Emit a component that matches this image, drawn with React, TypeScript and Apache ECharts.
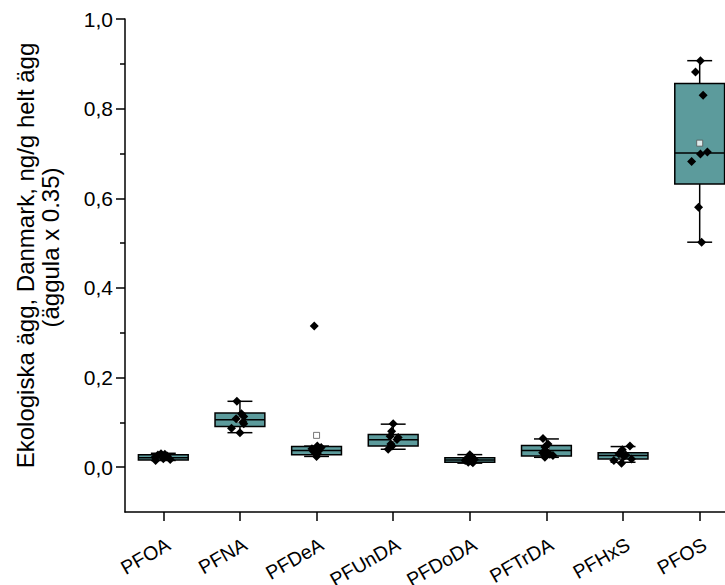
import React, { useEffect, useRef } from "react";
import * as echarts from "echarts";

const categories = ["PFOA", "PFNA", "PFDeA", "PFUnDA", "PFDoDA", "PFTrDA", "PFHxS", "PFOS"];

// [min, Q1, median, Q3, max]
const boxStats = [
  [0.015, 0.016, 0.021, 0.028, 0.031],
  [0.077, 0.091, 0.106, 0.121, 0.147],
  [0.024, 0.028, 0.037, 0.046, 0.047],
  [0.040, 0.047, 0.061, 0.073, 0.096],
  [0.009, 0.011, 0.016, 0.021, 0.028],
  [0.022, 0.025, 0.037, 0.0485, 0.063],
  [0.011, 0.018, 0.026, 0.032, 0.046],
  [0.502, 0.632, 0.701, 0.856, 0.907],
];

const means = [0.023, 0.106, 0.071, 0.064, 0.017, 0.040, 0.026, 0.723];

const pointValues = [
  [0.030, 0.029, 0.027, 0.025, 0.022, 0.019, 0.017, 0.015],
  [0.147, 0.119, 0.113, 0.108, 0.101, 0.097, 0.087, 0.077],
  [0.315, 0.047, 0.044, 0.041, 0.038, 0.035, 0.030, 0.024],
  [0.097, 0.080, 0.069, 0.066, 0.062, 0.052, 0.047, 0.040],
  [0.028, 0.022, 0.019, 0.017, 0.015, 0.013, 0.011, 0.010],
  [0.064, 0.052, 0.045, 0.037, 0.032, 0.029, 0.026, 0.022],
  [0.047, 0.039, 0.030, 0.027, 0.024, 0.018, 0.015, 0.009],
  [0.907, 0.882, 0.830, 0.703, 0.699, 0.682, 0.580, 0.502],
];

// horizontal jitter of each point, in category widths
const pointJitter = [
  [-0.03, 0.02, -0.07, 0.05, -0.11, 0.0, 0.09, -0.10],
  [-0.04, 0.02, 0.05, -0.05, 0.04, 0.05, -0.11, 0.0],
  [-0.03, 0.01, 0.06, -0.06, 0.035, -0.04, 0.01, 0.0],
  [0.0, -0.02, -0.04, 0.065, 0.05, -0.03, -0.015, -0.065],
  [0.0, 0.03, -0.04, 0.06, -0.06, 0.02, -0.02, 0.04],
  [-0.045, 0.02, -0.02, -0.01, -0.05, 0.045, 0.085, -0.02],
  [0.09, -0.01, -0.055, 0.035, 0.01, 0.11, -0.12, -0.02],
  [0.01, -0.055, 0.045, 0.10, 0.01, -0.105, -0.015, 0.025],
];

const yMajorTicks = [0, 0.2, 0.4, 0.6, 0.8, 1.0];
const yMinorTicks = [0.1, 0.3, 0.5, 0.7, 0.9];

const FONT = "'Liberation Sans', Arial, Helvetica, sans-serif";
const BOX_FILL = "#5c9b9c";

export default function App() {
  const ref = useRef<HTMLDivElement | null>(null);

  useEffect(() => {
    if (!ref.current) return;
    const chart = echarts.init(ref.current, undefined, { renderer: "svg" });

    const boxData = boxStats.map((s, i) => [i, ...s]);
    const meanData = means.map((m, i) => [i, m]);
    const pointData: number[][] = [];
    pointValues.forEach((vals, i) => {
      vals.forEach((v, j) => pointData.push([i + pointJitter[i][j], v]));
    });

    const option: any = {
      animation: false,
      backgroundColor: "#ffffff",
      textStyle: { fontFamily: FONT, color: "#000" },
      grid: {
        left: 125,
        right: -13,
        top: 19,
        bottom: 73,
        containLabel: false,
        outerBoundsMode: "none",
      },
      xAxis: [
        {
          type: "category",
          data: categories,
          boundaryGap: true,
          axisLine: { show: true, onZero: false, lineStyle: { color: "#000", width: 1.5 } },
          axisTick: {
            show: true,
            alignWithLabel: true,
            length: 9,
            lineStyle: { color: "#000", width: 1.5 },
          },
          axisLabel: {
            interval: 0,
            rotate: 30,
            margin: 22,
            align: "right",
            verticalAlign: "top",
            fontSize: 19.5,
            color: "#000",
            fontFamily: FONT,
          },
          splitLine: { show: false },
        },
        {
          type: "value",
          min: -0.5,
          max: 7.5,
          show: false,
          axisLine: { onZero: false },
          splitLine: { show: false },
        },
      ],
      yAxis: [
        {
          type: "value",
          min: -0.1,
          max: 1.0,
          position: "left",
          axisLine: { show: true, onZero: false, lineStyle: { color: "#000", width: 1.5 } },
          axisTick: {
            show: true,
            length: 9,
            customValues: yMajorTicks,
            lineStyle: { color: "#000", width: 1.5 },
          },
          axisLabel: {
            customValues: yMajorTicks,
            formatter: (v: number) => v.toFixed(1).replace(".", ","),
            fontSize: 21,
            margin: 12,
            color: "#000",
            fontFamily: FONT,
          },
          splitLine: { show: false },
          name: "{a|Ekologiska ägg, Danmark, ng/g helt ägg}\n{b|(äggula x 0.35)}",
          nameLocation: "middle",
          nameRotate: 90,
          nameGap: 62,
          nameTextStyle: {
            fontFamily: FONT,
            color: "#000",
            rich: {
              a: {
                fontSize: 24,
                lineHeight: 25,
                fontFamily: FONT,
                color: "#000",
                padding: [0, 0, 0, 20],
              },
              b: {
                fontSize: 24,
                lineHeight: 25,
                fontFamily: FONT,
                color: "#000",
                padding: [0, 0, 0, 36],
              },
            },
          },
        },
        {
          type: "value",
          min: -0.1,
          max: 1.0,
          position: "left",
          axisLine: { show: false, onZero: false },
          axisTick: {
            show: true,
            length: 5,
            customValues: yMinorTicks,
            lineStyle: { color: "#000", width: 1.5 },
          },
          axisLabel: { show: false },
          splitLine: { show: false },
        },
      ],
      series: [
        {
          type: "custom",
          xAxisIndex: 0,
          yAxisIndex: 0,
          z: 2,
          data: boxData,
          encode: { x: 0, y: [1, 2, 3, 4, 5] },
          renderItem: (params: any, api: any) => {
            const idx = api.value(0);
            const vMin = api.value(1);
            const vQ1 = api.value(2);
            const vMed = api.value(3);
            const vQ3 = api.value(4);
            const vMax = api.value(5);
            const x = api.coord([idx, vMed])[0];
            const yMin = api.coord([idx, vMin])[1];
            const yQ1 = api.coord([idx, vQ1])[1];
            const yMed = api.coord([idx, vMed])[1];
            const yQ3 = api.coord([idx, vQ3])[1];
            const yMax = api.coord([idx, vMax])[1];
            const bw = api.size([1, 0])[0] * 0.65;
            const cw = bw / 2;
            const ls = { stroke: "#000", lineWidth: 1.5 };
            return {
              type: "group",
              children: [
                { type: "line", shape: { x1: x, y1: yMax, x2: x, y2: yQ3 }, style: ls },
                { type: "line", shape: { x1: x, y1: yQ1, x2: x, y2: yMin }, style: ls },
                { type: "line", shape: { x1: x - cw / 2, y1: yMax, x2: x + cw / 2, y2: yMax }, style: ls },
                { type: "line", shape: { x1: x - cw / 2, y1: yMin, x2: x + cw / 2, y2: yMin }, style: ls },
                {
                  type: "rect",
                  shape: { x: x - bw / 2, y: yQ3, width: bw, height: yQ1 - yQ3 },
                  style: { fill: BOX_FILL, stroke: "#000", lineWidth: 1.5 },
                },
                { type: "line", shape: { x1: x - bw / 2, y1: yMed, x2: x + bw / 2, y2: yMed }, style: ls },
              ],
            };
          },
        },
        {
          type: "scatter",
          xAxisIndex: 1,
          yAxisIndex: 0,
          z: 3,
          symbol: "rect",
          symbolSize: 6,
          itemStyle: { color: "#ffffff", borderColor: "#555555", borderWidth: 1 },
          data: meanData,
        },
        {
          type: "scatter",
          xAxisIndex: 1,
          yAxisIndex: 0,
          z: 4,
          symbol: "diamond",
          symbolSize: 9,
          itemStyle: { color: "#000000", opacity: 1 },
          data: pointData,
        },
      ],
    };

    chart.setOption(option);
    return () => {
      chart.dispose();
    };
  }, []);

  return (
    <div
      ref={ref}
      style={{
        position: "absolute",
        left: 0,
        top: 0,
        width: 725,
        height: 585,
        background: "#fff",
      }}
    />
  );
}
